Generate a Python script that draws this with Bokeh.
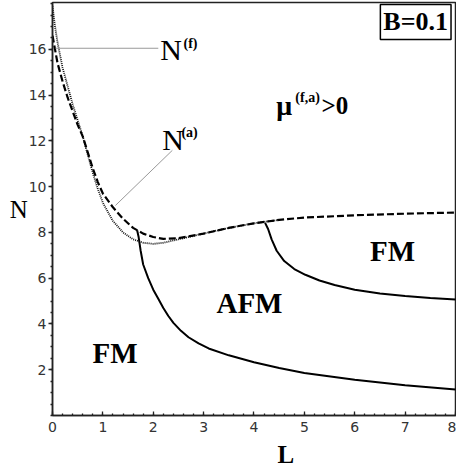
from bokeh.plotting import figure
from bokeh.models import Range1d, FixedTicker, Label, Title
from bokeh.embed import file_html
from bokeh.resources import INLINE

# ---- data ----
# N^(f) curve (dotted)
nf_L = [0.0, 0.05, 0.1, 0.2, 0.3, 0.4, 0.5, 0.6, 0.7, 0.8, 0.9, 1.0, 1.2, 1.4, 1.6, 1.8, 2.0, 2.2, 2.5, 3.0, 3.5, 4.0, 4.5]
nf_N = [17.9, 17.0, 16.3, 15.2, 14.4, 13.6, 12.9, 12.2, 11.4, 10.6, 9.9, 9.3, 8.5, 8.0, 7.7, 7.55, 7.5, 7.55, 7.7, 7.95, 8.2, 8.4, 8.55]
# N^(a) curve (dashed)
na_L = [0.0, 0.05, 0.1, 0.2, 0.3, 0.4, 0.5, 0.6, 0.7, 0.8, 0.9, 1.0, 1.2, 1.4, 1.6, 1.8, 2.0, 2.2, 2.5, 3.0, 3.5, 4.0, 4.5, 5.0, 6.0, 7.0, 8.0]
na_N = [16.6, 16.0, 15.4, 14.6, 13.9, 13.3, 12.7, 12.2, 11.5, 10.8, 10.2, 9.7, 9.1, 8.6, 8.2, 7.95, 7.8, 7.72, 7.75, 7.95, 8.2, 8.4, 8.55, 8.65, 8.75, 8.82, 8.87]
# FM / AFM lower boundary (solid)
low_L = [1.68, 1.71, 1.75, 1.8, 1.9, 2.0, 2.1, 2.2, 2.3, 2.4, 2.55, 2.7, 2.9, 3.1, 3.5, 4.0, 4.5, 5.0, 6.0, 7.0, 8.0]
low_N = [8.1, 7.8, 7.2, 6.6, 6.0, 5.5, 5.1, 4.7, 4.35, 4.05, 3.7, 3.42, 3.15, 2.93, 2.63, 2.33, 2.08, 1.86, 1.56, 1.32, 1.14]
# AFM / FM upper boundary (solid)
up_L = [4.22, 4.28, 4.35, 4.45, 4.6, 4.8, 5.02, 5.3, 5.6, 6.0, 6.5, 7.0, 7.5, 8.0]
up_N = [8.42, 8.15, 7.7, 7.2, 6.75, 6.4, 6.15, 5.9, 5.7, 5.5, 5.33, 5.22, 5.13, 5.07]

# leader lines of the curve labels
lead_f_L = [0.06, 2.1]
lead_f_N = [16.05, 16.05]
lead_a_L = [2.38, 1.25]
lead_a_N = [11.59, 9.18]

x_ticks = [0, 1, 2, 3, 4, 5, 6, 7, 8]
y_ticks = [2, 4, 6, 8, 10, 12, 14, 16]

SERIF = "Liberation Serif"
SANS = "DejaVu Sans"

p = figure(width=456, height=472,
           x_range=Range1d(0, 8.02), y_range=Range1d(0, 18.05),
           output_backend="svg", toolbar_location=None,
           min_border_left=52, min_border_right=0,
           min_border_top=2, min_border_bottom=57)
p.grid.visible = False
p.outline_line_color = "#222222"
p.outline_line_width = 1.5
p.background_fill_color = "white"
p.border_fill_color = "white"

p.xaxis.ticker = FixedTicker(ticks=x_ticks, minor_ticks=[i * 0.2 for i in range(41)])
p.yaxis.ticker = FixedTicker(ticks=y_ticks, minor_ticks=[i * 0.5 for i in range(37)])

for ax in (p.xaxis, p.yaxis):
    ax.axis_line_width = 1.5
    ax.axis_line_color = "#222222"
    ax.major_tick_line_color = "#222222"
    ax.minor_tick_line_color = "#222222"
    ax.major_tick_line_width = 1.3
    ax.minor_tick_line_width = 1.3
    ax.major_label_text_font = SANS
    ax.major_label_text_font_size = "14px"
    ax.major_label_text_color = "#333333"

p.xaxis.major_tick_in = 4
p.xaxis.major_tick_out = 0
p.xaxis.minor_tick_in = 2
p.xaxis.minor_tick_out = 0
p.xaxis.major_label_standoff = 6

p.yaxis.major_tick_in = 0
p.yaxis.major_tick_out = 4
p.yaxis.minor_tick_in = 0
p.yaxis.minor_tick_out = 2
p.yaxis.major_label_standoff = 2

# y axis label, horizontal
p.yaxis.axis_label = "N"
p.yaxis.axis_label_orientation = "horizontal"
p.yaxis.axis_label_text_font = SERIF
p.yaxis.axis_label_text_font_size = "25px"
p.yaxis.axis_label_text_font_style = "normal"
p.yaxis.axis_label_text_color = "black"
p.yaxis.axis_label_standoff = -2

# x axis label as a title below, shifted right
p.add_layout(Title(text="L", align="left", offset=225, text_font=SERIF,
                   text_font_size="25px", text_font_style="bold",
                   text_color="black", standoff=8), "below")

# curves
p.line(nf_L, nf_N, line_color="#111111", line_width=1.8, line_dash="1 1")
p.line(na_L, na_N, line_color="black", line_width=2.2, line_dash="7 3")
p.line(low_L, low_N, line_color="black", line_width=2)
p.line(up_L, up_N, line_color="black", line_width=2)

# leader lines
p.line(lead_f_L, lead_f_N, line_color="#999999", line_width=1)
p.line(lead_a_L, lead_a_N, line_color="#999999", line_width=1)


def lab(x, y, text, size, bold=False, align="left", **kw):
    p.add_layout(Label(x=x, y=y, text=text, text_font=SERIF,
                       text_font_size=size,
                       text_font_style="bold" if bold else "normal",
                       text_align=align, text_baseline="middle",
                       text_color="black", **kw))


# curve labels
lab(2.14, 16.0, "N", "30px")
lab(2.6, 16.25, "(f)", "14px", bold=True)
lab(2.18, 12.07, "N", "30px")
lab(2.56, 12.35, "(a)", "14px", bold=True)

# mu label
lab(4.44, 13.55, "\u03bc", "28px", bold=True)
lab(4.82, 13.88, "(f,a)", "14px", bold=True)
lab(5.34, 13.55, ">0", "25px", bold=True)

# region labels
lab(6.75, 7.17, "FM", "29px", bold=True, align="center")
lab(3.91, 4.9, "AFM", "29px", bold=True, align="center")
lab(1.24, 2.75, "FM", "29px", bold=True, align="center")

# B box
lab(7.21, 17.2, "B=0.1", "26px", bold=True, align="center",
    border_line_color="black", border_line_width=1.5,
    background_fill_color="white", padding=3)

open("out.html", "w").write(file_html(p, INLINE))
